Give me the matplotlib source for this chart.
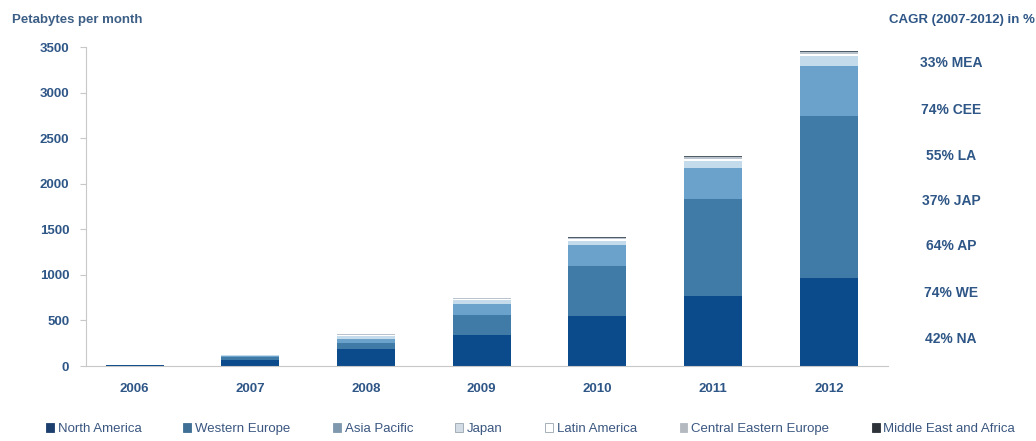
import matplotlib
matplotlib.use("Agg")
import matplotlib.pyplot as plt
import numpy as np

# data (petabytes per month)
years = ["2006", "2007", "2008", "2009", "2010", "2011", "2012"]
north_america  = [10, 70, 190, 340, 550, 765, 965]
western_europe = [3, 30, 60, 220, 545, 1065, 1780]
asia_pacific   = [2, 12, 50, 125, 230, 345, 550]
japan          = [1, 6, 30, 40, 45, 75, 110]
latin_america  = [1, 3, 10, 12, 25, 25, 20]
central_eu     = [1, 2, 8, 5, 10, 15, 20]
middle_east    = [1, 2, 5, 8, 15, 20, 15]

series_names = ["North America", "Western Europe", "Asia Pacific", "Japan",
                "Latin America", "Central Eastern Europe", "Middle East and Africa"]
series_vals = [north_america, western_europe, asia_pacific, japan,
               latin_america, central_eu, middle_east]
colors = ["#0b4a8b", "#3f7ba6", "#6aa2cb", "#c4dbec", "#ffffff", "#b8c3cd", "#505c66"]
legend_colors = ["#1d3f6e", "#3f6f94", "#7f98ad", "#d3dce4", "#ffffff", "#b3b9bf", "#2c3238"]

cagr_labels = ["33% MEA", "74% CEE", "55% LA", "37% JAP", "64% AP", "74% WE", "42% NA"]

text_col = "#2e5686"

plt.rcParams["font.family"] = ["Liberation Sans", "DejaVu Sans"]

fig = plt.figure(figsize=(10.36, 4.41), dpi=100)
ax = fig.add_axes([0.083, 0.170, 0.774, 0.723])

x = np.arange(len(years))
bottom = np.zeros(len(years))
for name, vals, col in zip(series_names, series_vals, colors):
    ax.bar(x, vals, width=0.5, bottom=bottom, color=col, label=name,
           edgecolor="none")
    bottom += np.array(vals)

ax.set_xlim(-0.42, 6.51)
ax.set_ylim(0, 3500)
ax.set_yticks(range(0, 3501, 500))
ax.set_xticks(x)
ax.set_xticklabels(years)

for s in ["top", "right"]:
    ax.spines[s].set_visible(False)
ax.spines["left"].set_color("#c8c8c8")
ax.spines["bottom"].set_color("#c8c8c8")
ax.tick_params(axis="y", length=4, color="#c8c8c8", labelsize=9.5,
               labelcolor=text_col, pad=8)
ax.tick_params(axis="x", length=0, labelsize=9.5, labelcolor=text_col, pad=12)
for lab in ax.get_xticklabels() + ax.get_yticklabels():
    lab.set_fontweight("bold")

fig.text(0.012, 0.955, "Petabytes per month", fontsize=9.5, fontweight="bold",
         color="#3d5f86", va="center")
fig.text(0.999, 0.955, "CAGR (2007-2012) in %", fontsize=9.5, fontweight="bold",
         color=text_col, va="center", ha="right")

label_y = [63, 110, 156, 201, 246, 293, 339]
for lab, yp in zip(cagr_labels, label_y):
    fig.text(0.918, 1 - yp / 441, lab, fontsize=10, fontweight="bold",
             color=text_col, va="center", ha="center")

# legend handles: small squares, light ones outlined
leg_handles = []
for col in legend_colors:
    edge = "#9aa5b0" if col in ("#ffffff", "#d3dce4") else col
    leg_handles.append(plt.Rectangle((0, 0), 1, 1, facecolor=col, edgecolor=edge,
                                     linewidth=0.6))
fig.legend(leg_handles, series_names, loc="center", bbox_to_anchor=(0.512, 0.027),
           ncol=7, frameon=False, fontsize=9.5, handlelength=0.6, handleheight=0.6,
           handletextpad=0.3, columnspacing=3.2, labelcolor="#3a5680")

fig.savefig("out.png", dpi=100)
